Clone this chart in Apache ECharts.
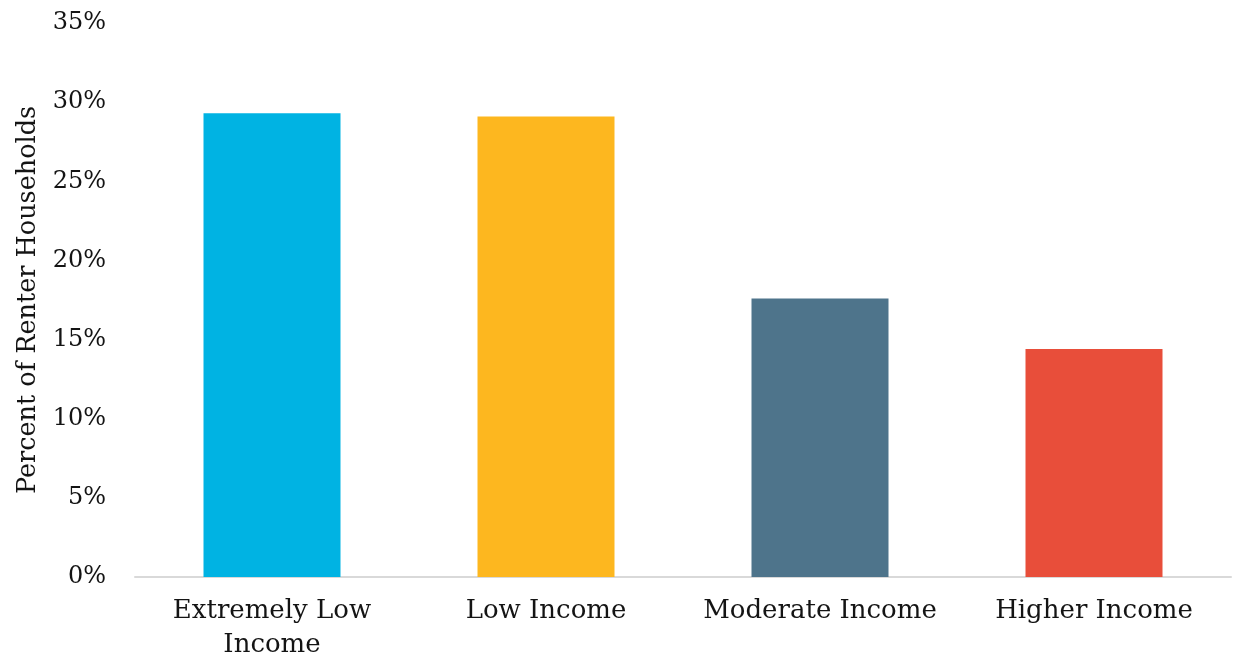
<!DOCTYPE html>
<html>
<head>
<meta charset="utf-8">
<script src="https://cdn.jsdelivr.net/npm/echarts@6/dist/echarts.min.js"></script>
<style>
  html, body { margin: 0; padding: 0; background: #fff; }
  #chart { width: 1238px; height: 656px; }
</style>
</head>
<body>
<div id="chart"></div>
<script>
// Share of renter households by income group
const categories = ['Extremely Low\nIncome', 'Low Income', 'Moderate Income', 'Higher Income'];
const shares = [29.3, 29.1, 17.6, 14.4];
const barColors = ['#00B3E3', '#FDB71F', '#4E748B', '#E84E3A'];
const yTicks = [0, 5, 10, 15, 20, 25, 30, 35];

const serif = '"DejaVu Serif", "Liberation Serif", serif';
const textColor = '#141414';

const chart = echarts.init(document.getElementById('chart'), null, { renderer: 'canvas' });

chart.setOption({
  animation: false,
  backgroundColor: '#ffffff',
  grid: {
    left: 135, right: 7, top: 23, bottom: 79,
    containLabel: false,
    outerBoundsMode: 'none'
  },
  xAxis: {
    type: 'category',
    data: categories,
    axisLine: { lineStyle: { color: '#D9D9D9', width: 2 } },
    axisTick: { show: false },
    axisLabel: {
      color: textColor,
      fontFamily: serif,
      fontSize: 26,
      lineHeight: 34,
      margin: 17,
      interval: 0
    }
  },
  yAxis: {
    type: 'value',
    min: yTicks[0],
    max: yTicks[yTicks.length - 1],
    interval: 5,
    name: 'Percent of Renter Households',
    nameLocation: 'middle',
    nameRotate: 90,
    nameGap: 94,
    nameTextStyle: { color: textColor, fontFamily: serif, fontSize: 25.5 },
    axisLine: { show: false },
    axisTick: { show: false },
    splitLine: { show: false },
    axisLabel: {
      color: textColor,
      fontFamily: serif,
      fontSize: 24,
      margin: 29,
      formatter: v => v + '%'
    }
  },
  series: [{
    type: 'bar',
    data: shares.map((v, i) => ({ value: v, itemStyle: { color: barColors[i] } })),
    barCategoryGap: '50%'
  }]
});
</script>
</body>
</html>
